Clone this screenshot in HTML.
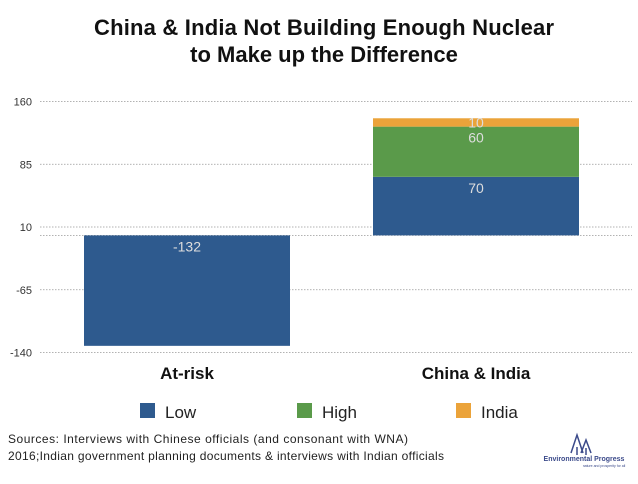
<!DOCTYPE html>
<html><head><meta charset="utf-8"><style>
body{margin:0;background:#fff;font-family:"Liberation Sans",sans-serif;}
</style></head><body>
<svg id="c" width="638" height="479" xmlns="http://www.w3.org/2000/svg" font-family="Liberation Sans, sans-serif">
<text x="324" y="35" text-anchor="middle" font-size="22" font-weight="bold" fill="#111" textLength="460">China &amp; India Not Building Enough Nuclear</text>
<text x="324" y="62" text-anchor="middle" font-size="22" font-weight="bold" fill="#111">to Make up the Difference</text>
<g id="grid"></g><g id="bars"></g>
<g>
<rect x="140" y="403" width="15" height="15" fill="#2e5a8e"/>
<text x="165" y="418" font-size="17" fill="#222">Low</text>
<rect x="297" y="403" width="15" height="15" fill="#5a9a4a"/>
<text x="322" y="418" font-size="17" fill="#222">High</text>
<rect x="456" y="403" width="15" height="15" fill="#eba33a"/>
<text x="481" y="418" font-size="17" fill="#222">India</text>
</g>
<text x="8" y="443" font-size="12" fill="#222" textLength="400">Sources: Interviews with Chinese officials (and consonant with WNA)</text>
<text x="8" y="460" font-size="12" fill="#222" textLength="436">2016;Indian government planning documents &amp; interviews with Indian officials</text>
<g>
<path d="M571 453 L577 435 L583 453 M577 447 L577 455 M581 453 L586 440 L591 453 M586 448 L586 455" stroke="#3b4a8a" stroke-width="1.5" fill="none"/>
<text x="584" y="461" text-anchor="middle" font-size="7" font-weight="bold" fill="#3b4a8a">Environmental Progress</text>
<text x="604" y="467" text-anchor="middle" font-size="3.5" fill="#3b4a8a">nature and prosperity for all</text>
</g>
</svg>
<script>
const categories=["At-risk","China & India"];
const lowValues=[-132,70];
const highValues=[0,60];
const indiaValues=[0,10];
const ticks=[160,85,10,-65,-140];
const NS="http://www.w3.org/2000/svg";
function y(v){return 235.4-(v)*(62.75/75);}
function x(i){return 84+i*289;}
const bw=206;
function mk(t,a,p){const e=document.createElementNS(NS,t);for(const k in a)e.setAttribute(k,a[k]);p.appendChild(e);return e;}
const g=document.getElementById('grid'),b=document.getElementById('bars');
ticks.forEach(t=>{
 const l=mk('line',{x1:40,x2:632,y1:y(t),y2:y(t),stroke:'#999','stroke-width':0.8,'stroke-dasharray':'1.5,1.5'},g);
 
 
 const tx=mk('text',{x:32,y:y(t)+4,'text-anchor':'end','font-size':11,fill:'#333'},g);tx.textContent=t;
 
 
});
const zl=mk('line',{x1:40,x2:632,y1:y(0),y2:y(0),stroke:'#999','stroke-width':0.8,'stroke-dasharray':'1.5,1.5'},g);


const series=[[lowValues,'#2e5a8e','low'],[highValues,'#5a9a4a','high'],[indiaValues,'#eba33a','india']];
categories.forEach((c,i)=>{
 let base=0;
 series.forEach(([arr,col,nm])=>{
  const v=arr[i];if(!v)return;
  const y0=y(base),y1=y(base+v);
  const r=mk('rect',{x:x(i),y:Math.min(y0,y1),width:bw,height:Math.abs(y1-y0),fill:col},b);
  
  
  const ty=v<0?y0+16:y1+Math.min(16,Math.abs(y1-y0)/2+5);
  const t=mk('text',{x:x(i)+bw/2,y:ty,'text-anchor':'middle','font-size':14,fill:'#ddd'},b);t.textContent=v;
  
  
  base+=v;
 });
 const lt=mk('text',{x:x(i)+bw/2,y:379,'text-anchor':'middle','font-size':17,'font-weight':'bold',fill:'#111'},b);lt.textContent=c;
 
 
});
</script>
</body></html>
